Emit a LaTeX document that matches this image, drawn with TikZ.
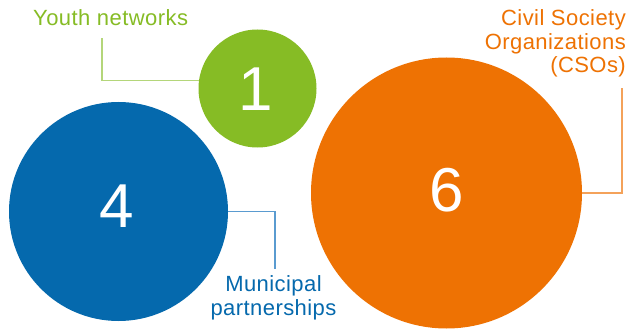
\documentclass[tikz,border=0pt]{standalone}
\usepackage{fontspec}
\setmainfont{Liberation Sans}[LetterSpace=2]
\definecolor{cgreen}{HTML}{86BC25}
\definecolor{cblue}{HTML}{0569AD}
\definecolor{corange}{HTML}{EE7203}
\definecolor{lgreen}{HTML}{B4D67A}
\definecolor{lblue}{HTML}{5A9BD0}
\definecolor{lorange}{HTML}{F4A25A}
\begin{document}
\begin{tikzpicture}[x=1pt,y=-1pt,
  bubble/.style={circle,inner sep=0pt,minimum size=#1},
  num/.style={text=white,inner sep=0pt,font=\fontsize{62}{62}\selectfont},
  lbl/.style={inner sep=0pt,font=\fontsize{22}{23.5}\selectfont},
  leader/.style={line width=1.2pt}]
\useasboundingbox[fill=white] (0,0) rectangle (630,329);
% circles
\node[bubble=118pt,fill=cgreen] (g) at (257.5,88.5) {};
\node[bubble=219pt,fill=cblue] (b) at (118.5,211.5) {};
\node[bubble=271pt,fill=corange] (o) at (446.5,193) {};
% numbers
\node[num] (n1) at (256,89) {1};
\node[num] (n4) at (117,206) {4};
\node[num] (n6) at (447,190) {6};
% labels
\node[lbl,text=cgreen,anchor=base west] (tg) at (33,26) {Youth networks};
\node[lbl,text=corange,anchor=base east,align=right] (to) at (626,73) {Civil Society\\Organizations\\(CSOs)};
\node[lbl,text=cblue,anchor=base,align=center] (tb) at (273.5,315) {Municipal\\partnerships};
% leader lines
\coordinate (gend) at (102,38);
\coordinate (bend) at (275,269);
\coordinate (oend) at (622,88);
\draw[leader,lgreen] (g.172.7) -| (gend);
\draw[leader,lblue] (b.east) -| (bend);
\draw[leader,lorange] (o.east) -| (oend);
\end{tikzpicture}
\end{document}
